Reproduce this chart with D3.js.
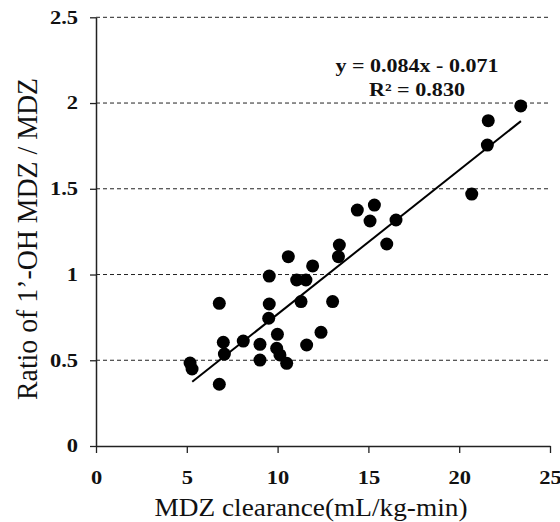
<!DOCTYPE html>
<html>
<head>
<meta charset="utf-8">
<script src="https://cdn.jsdelivr.net/npm/d3@7"></script>
<style>
  body { margin: 0; background: #fff; }
  text { font-family: "Liberation Serif", "Times New Roman", serif; fill: #111; }
</style>
</head>
<body>
<script>
// MDZ clearance (mL/kg-min) vs ratio of 1'-OH MDZ / MDZ
const clearance = [5.18, 5.29, 6.79, 6.79, 7.01, 7.07, 8.11, 9.03, 9.03, 9.54,
  9.54, 9.51, 9.99, 9.95, 10.13, 10.5, 10.59, 11.05, 11.56, 11.93,
  11.29, 11.6, 12.39, 13.03, 13.4, 13.35, 14.39, 15.33, 15.09, 16.52,
  16.01, 20.69, 21.6, 21.55, 23.39];
const ratio = [0.484, 0.449, 0.36, 0.832, 0.605, 0.536, 0.612, 0.593, 0.501, 0.991,
  0.828, 0.745, 0.651, 0.57, 0.531, 0.482, 1.104, 0.968, 0.968, 1.05,
  0.842, 0.589, 0.663, 0.842, 1.172, 1.104, 1.376, 1.405, 1.312, 1.318,
  1.178, 1.469, 1.897, 1.755, 1.983];
const xTicks = [0, 5, 10, 15, 20, 25];
const yTicks = [0, 0.5, 1, 1.5, 2, 2.5];
const slope = 0.084;
const intercept = -0.071;
const fitRange = [5.3, 23.4];
const eqLines = ["y = 0.084x - 0.071", "R² = 0.830"];

const width = 560;
const height = 522;

const svg = d3.select("body").append("svg")
  .attr("width", width)
  .attr("height", height);

const x = d3.scaleLinear().domain([0, 25]).range([96, 550]);
const y = d3.scaleLinear().domain([0, 2.5]).range([446, 17.3]);

// stretch text along its reading direction (the source font runs wide)
function widen(sel, k) {
  sel.each(function () {
    const len = this.getComputedTextLength();
    d3.select(this)
      .attr("textLength", len * k)
      .attr("lengthAdjust", "spacingAndGlyphs");
  });
}

// grid
svg.append("g")
  .selectAll("line")
  .data(yTicks.filter((d) => d > 0))
  .join("line")
  .attr("x1", x(0))
  .attr("x2", x(25))
  .attr("y1", (d) => y(d))
  .attr("y2", (d) => y(d))
  .attr("stroke", "#222")
  .attr("stroke-width", 1)
  .attr("stroke-dasharray", "4,3");

// axes
const xAxis = svg.append("g")
  .attr("transform", `translate(0, ${y(0)})`)
  .call(d3.axisBottom(x).tickValues(xTicks).tickSize(7).tickPadding(18).tickSizeOuter(0));

const yAxis = svg.append("g")
  .attr("transform", `translate(${x(0)}, 0)`)
  .call(d3.axisLeft(y).tickValues(yTicks).tickFormat((d) => d).tickSize(6).tickPadding(12).tickSizeOuter(0));

[xAxis, yAxis].forEach((g) => {
  g.select(".domain").attr("stroke", "#222").attr("stroke-width", 1.5);
  g.selectAll(".tick line").attr("stroke", "#222").attr("stroke-width", 1.3);
  g.selectAll(".tick text")
    .style("font-family", '"Liberation Serif", serif')
    .style("font-size", "18px")
    .style("font-weight", "bold")
    .attr("fill", "#111");
});
widen(xAxis.selectAll(".tick text"), 1.25);
widen(yAxis.selectAll(".tick text"), 1.25);

// regression line
svg.append("line")
  .attr("x1", x(fitRange[0]))
  .attr("y1", y(slope * fitRange[0] + intercept))
  .attr("x2", x(fitRange[1]))
  .attr("y2", y(slope * fitRange[1] + intercept))
  .attr("stroke", "#000")
  .attr("stroke-width", 2);

// points
svg.append("g")
  .selectAll("circle")
  .data(clearance.map((c, i) => ({ c, r: ratio[i] })))
  .join("circle")
  .attr("cx", (d) => x(d.c))
  .attr("cy", (d) => y(d.r))
  .attr("r", 6.5)
  .attr("fill", "#000");

// equation
const eqWidths = [163, 96];
svg.append("g")
  .selectAll("text")
  .data(eqLines)
  .join("text")
  .attr("x", 417)
  .attr("y", (d, i) => 72 + i * 24)
  .attr("text-anchor", "middle")
  .style("font-size", "18px")
  .style("font-weight", "bold")
  .text((d) => d)
  .attr("textLength", (d, i) => eqWidths[i])
  .attr("lengthAdjust", "spacingAndGlyphs");

// axis titles
svg.append("text")
  .attr("x", 311)
  .attr("y", 516)
  .attr("text-anchor", "middle")
  .style("font-size", "26px")
  .text("MDZ clearance(mL/kg-min)")
  .attr("textLength", 313)
  .attr("lengthAdjust", "spacingAndGlyphs");

svg.append("text")
  .attr("transform", "translate(37, 239) rotate(-90)")
  .attr("text-anchor", "middle")
  .style("font-size", "30px")
  .text("Ratio of 1’-OH MDZ / MDZ")
  .attr("textLength", 322)
  .attr("lengthAdjust", "spacingAndGlyphs");
</script>
</body>
</html>
